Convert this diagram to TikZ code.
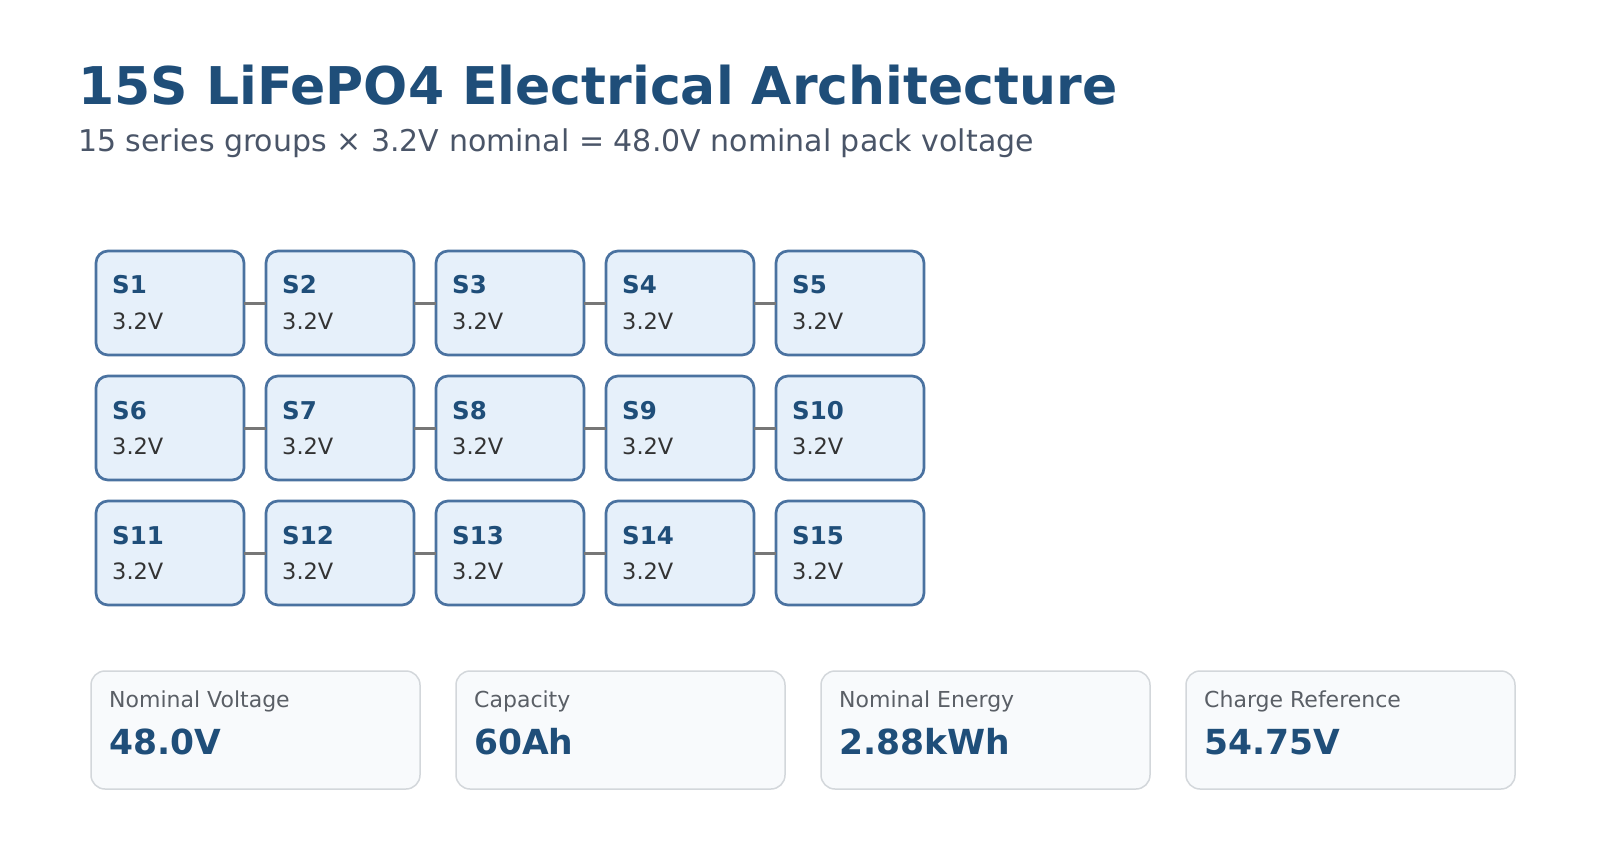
\documentclass[tikz,border=0pt]{standalone}
\usepackage{fontspec}
\setmainfont{DejaVu Sans}
\usetikzlibrary{calc,positioning}

\definecolor{titleblue}{HTML}{1F4E79}
\definecolor{subgray}{HTML}{4A5568}
\definecolor{cellfill}{HTML}{E6F0FA}
\definecolor{cellborder}{HTML}{4A72A0}
\definecolor{wiregray}{HTML}{777777}
\definecolor{cardfill}{HTML}{F8FAFC}
\definecolor{cardborder}{HTML}{D3D7DB}
\definecolor{labelgray}{HTML}{5A5F66}
\definecolor{voltgray}{HTML}{333333}

\begin{document}
\begin{tikzpicture}[x=1pt,y=-1pt,
  cell/.style={draw=cellborder, fill=cellfill, line width=2.7pt, rounded corners=12pt,
    minimum width=148pt, minimum height=104pt, inner sep=0pt, outer sep=0pt},
  cellname/.style={anchor=base west, inner sep=0pt, text=titleblue, font=\fontsize{24.5}{28}\selectfont\bfseries},
  cellvolt/.style={anchor=base west, inner sep=0pt, text=voltgray, font=\fontsize{22.5}{26}\selectfont},
  wire/.style={draw=wiregray, line width=3pt},
  card/.style={draw=cardborder, fill=cardfill, line width=1.5pt, rounded corners=14pt,
    minimum width=329pt, minimum height=118pt, inner sep=0pt, outer sep=0pt},
  cardlabel/.style={anchor=base west, inner sep=0pt, text=labelgray, font=\fontsize{22}{26}\selectfont},
  cardvalue/.style={anchor=base west, inner sep=0pt, text=titleblue, font=\fontsize{34.5}{40}\selectfont\bfseries}]
\useasboundingbox[fill=white] (0,0) rectangle (1600,850);

% heading
\node[anchor=base west, inner sep=0pt, text=titleblue, font=\fontsize{52}{62}\selectfont\bfseries]
  (title) at (78,105) {15S LiFePO4 Electrical Architecture};
\node[anchor=base west, inner sep=0pt, text=subgray, font=\fontsize{30}{36}\selectfont]
  (subtitle) at (78,152) {15 series groups × 3.2V nominal = 48.0V nominal pack voltage};

% series groups
\foreach \r in {0,1,2}
  \foreach \c in {0,...,4} {
    \pgfmathtruncatemacro\n{5*\r+\c+1}
    \node[cell] (s\n) at ({170+170*\c},{303+125*\r}) {};
    \node[cellname] (s\n-name) at ($(s\n.north west)+(16,43)$) {S\n};
    \node[cellvolt] (s\n-volt) at ($(s\n.north west)+(16,78)$) {3.2V};
  }

% links between neighbours
\foreach \r in {0,1,2}
  \foreach \c in {1,...,4} {
    \pgfmathtruncatemacro\a{5*\r+\c}
    \pgfmathtruncatemacro\b{5*\r+\c+1}
    \draw[wire] (s\a.east) -- (s\b.west);
  }

% summary cards
\node[card] (nomvolt) at (255.5,730) {};
\node[card] (capacity) at (620.5,730) {};
\node[card] (energy) at (985.5,730) {};
\node[card] (charge) at (1350.5,730) {};

\node[cardlabel] (nomvolt-l) at ($(nomvolt.north west)+(18,36)$) {Nominal Voltage};
\node[cardvalue] (nomvolt-v) at ($(nomvolt.north west)+(18,83)$) {48.0V};
\node[cardlabel] (capacity-l) at ($(capacity.north west)+(18,36)$) {Capacity};
\node[cardvalue] (capacity-v) at ($(capacity.north west)+(18,83)$) {60Ah};
\node[cardlabel] (energy-l) at ($(energy.north west)+(18,36)$) {Nominal Energy};
\node[cardvalue] (energy-v) at ($(energy.north west)+(18,83)$) {2.88kWh};
\node[cardlabel] (charge-l) at ($(charge.north west)+(18,36)$) {Charge Reference};
\node[cardvalue] (charge-v) at ($(charge.north west)+(18,83)$) {54.75V};
\end{tikzpicture}
\end{document}
